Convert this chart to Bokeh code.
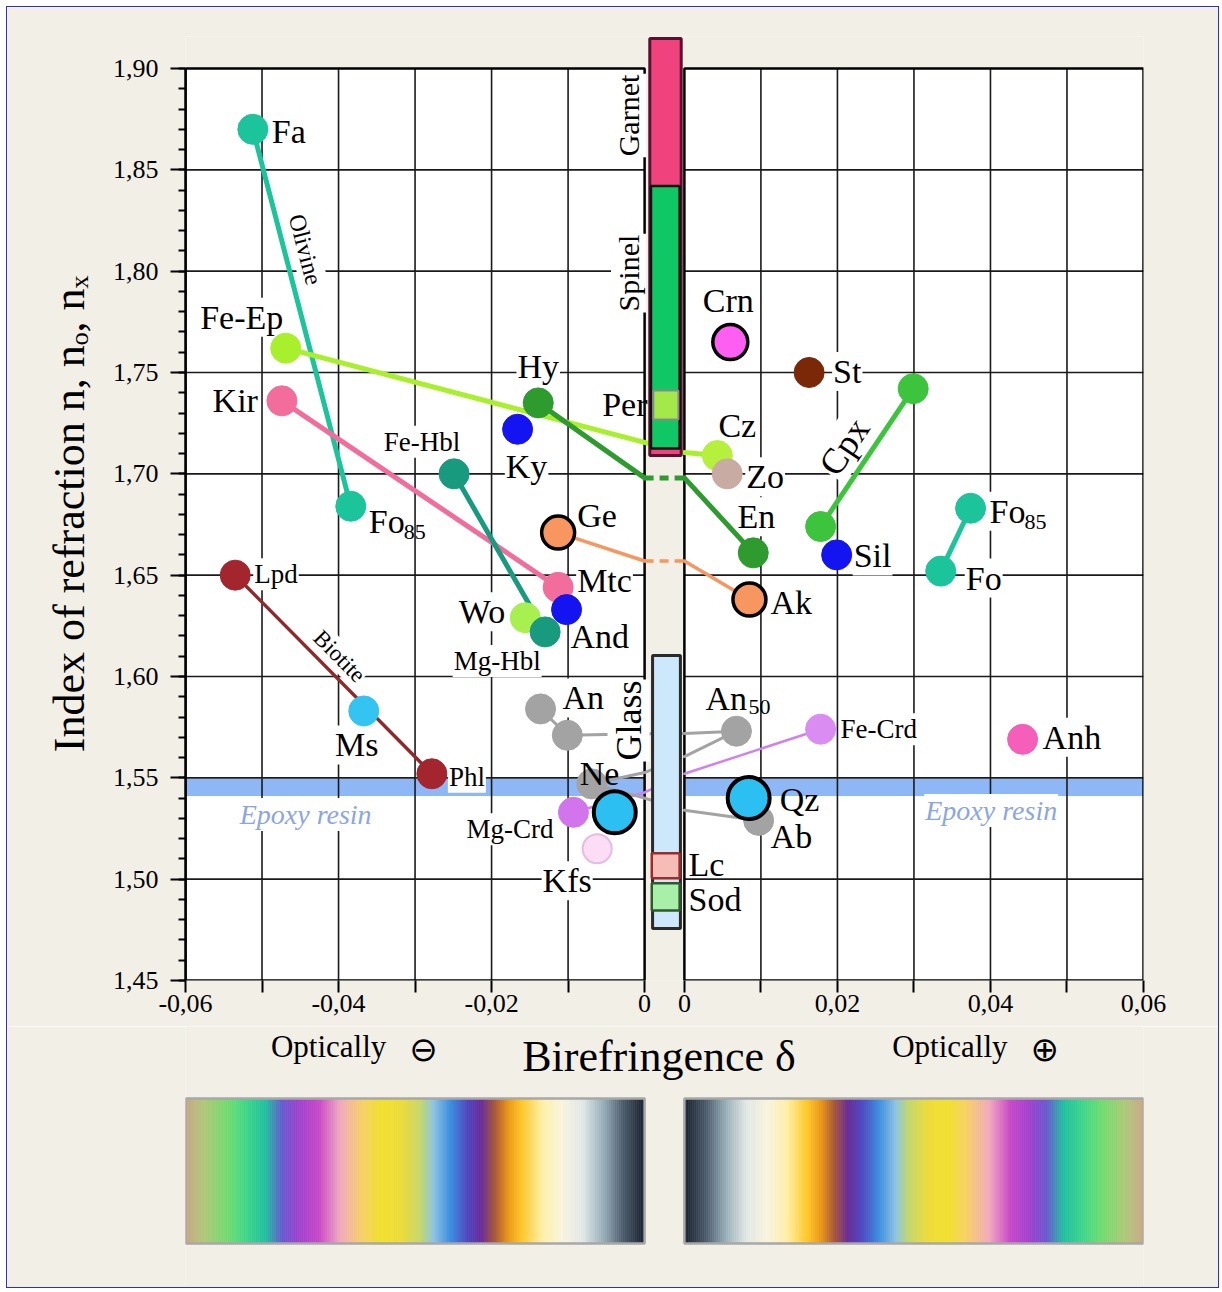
import math
import numpy as np
from bokeh.plotting import figure
from bokeh.models import Range1d, FixedTicker, ColumnDataSource
from bokeh.layouts import column
from bokeh.embed import file_html
from bokeh.resources import INLINE
from bokeh.core.properties import value

# ======================= DATA =======================
mineral_ids = ["Fa", "Fo85L", "Fe-Ep", "Kir", "Fe-Hbl", "Ky", "Hy", "Wo", "Mg-Hbl", "Mtc",
               "And", "Ge", "Lpd", "Ms", "Phl", "An", "Byt", "Olig", "Ab", "An50",
               "Mg-Crd", "Kfs", "Ne", "Qz", "Cz", "Zo", "Crn", "St", "En", "Ak",
               "Sil", "Cpx1", "Cpx2", "Fo85R", "Fo", "Fe-Crd", "Anh"]
mineral_delta = [-0.0512, -0.0384, -0.0469, -0.0474, -0.0249, -0.0166, -0.0139, -0.0156, -0.0130, -0.0113,
                 -0.0102, -0.0113, -0.0535, -0.0367, -0.0278, -0.0136, -0.0101, -0.0069, 0.0097, 0.0068,
                 -0.0093, -0.0062, -0.0039, 0.0084, 0.0043, 0.0056, 0.0060, 0.0163, 0.0090, 0.0085,
                 0.0199, 0.0178, 0.0299, 0.0374, 0.0335, 0.0178, 0.0442]
mineral_n = [1.870, 1.684, 1.762, 1.736, 1.700, 1.722, 1.735, 1.629, 1.622, 1.644,
             1.633, 1.671, 1.650, 1.583, 1.552, 1.584, 1.571, 1.547, 1.529, 1.573,
             1.533, 1.515, 1.533, 1.540, 1.709, 1.700, 1.765, 1.750, 1.661, 1.638,
             1.660, 1.674, 1.742, 1.683, 1.652, 1.574, 1.569]

# mineral series (connected by lines)
series_olivine = ["Fa", "Fo85L"]
series_olivine_pos = ["Fo85R", "Fo"]
series_epidote = ["Fe-Ep", "Cz"]
series_opx = ["Hy", "En"]
series_kir = ["Kir", "Mtc"]
series_hbl = ["Fe-Hbl", "Mg-Hbl"]
series_melilite = ["Ge", "Ak"]
series_biotite = ["Lpd", "Phl"]
series_cpx = ["Cpx1", "Cpx2"]
series_crd = ["Fe-Crd", "Mg-Crd"]
series_plag = ["Ab", "Olig", "An50", "Byt", "An"]

# refractive index where a series passes delta = 0 (negative side, positive side)
cross_pairs = [("Fe-Ep", "Cz"), ("Hy", "En"), ("Ge", "Ak"), ("Fe-Crd", "Mg-Crd"),
               ("Ab", "Olig"), ("Olig", "An50"), ("An50", "Byt")]
cross_n_neg = [1.7155, 1.698, 1.657, 1.5428, 1.540, 1.5526, 1.5717]
cross_n_pos = [1.7105, 1.698, 1.657, 1.5520, 1.534, 1.5605, 1.5719]

# isotropic minerals (n ranges at delta = 0)
iso_names = ["Garnet", "Spinel", "Per", "Glass", "Lc", "Sod"]
iso_n_low = [1.709, 1.7125, 1.7268, 1.4757, 1.5005, 1.4845]
iso_n_high = [1.9148, 1.842, 1.7411, 1.6104, 1.5128, 1.4980]

epoxy_n = [1.541, 1.5495]

y_tick_values = [1.45, 1.50, 1.55, 1.60, 1.65, 1.70, 1.75, 1.80, 1.85, 1.90]
y_tick_labels = ["1,45", "1,50", "1,55", "1,60", "1,65", "1,70", "1,75", "1,80", "1,85", "1,90"]
x_tick_delta = [-0.06, -0.04, -0.02, 0.0, 0.0, 0.02, 0.04, 0.06]
x_tick_side = [-1, -1, -1, -1, 1, 1, 1, 1]
x_tick_labels = ["-0,06", "-0,04", "-0,02", "0", "0", "0,02", "0,04", "0,06"]
x_minor_delta = [-0.05, -0.03, -0.01, 0.01, 0.03, 0.05]

# interference colours vs |delta|
strip_stop_delta = [0.0, 0.0028, 0.0055, 0.0081, 0.0108, 0.0134, 0.0161, 0.0178, 0.0196, 0.0214,
                    0.0232, 0.0254, 0.0276, 0.0293, 0.0320, 0.0346, 0.0373, 0.0399, 0.0426, 0.0452,
                    0.0474, 0.0496, 0.0523, 0.0545, 0.0576, 0.0600]
strip_stop_color = ["#18202E", "#4A5A6A", "#9AB0BC", "#E2E8E6", "#F8F4E0", "#FFF0A8", "#FFC828", "#EC9A18",
                    "#A85838", "#6A2C98", "#5048C0", "#3E8EE0", "#8CC4E4", "#C4D870", "#EEDC38", "#F2E030",
                    "#F8CC70", "#F0A8C0", "#C848C8", "#A040D0", "#6858D0", "#20C0A0", "#40D888", "#70DC70",
                    "#B0C878", "#C8A888"]

# ======================= STYLE / LAYOUT =======================
FONT = "Liberation Serif"
BEIGE = "#F2EFE7"
GAP = 0.0052
FRAME_W, FRAME_H = 958, 944
X0, X1 = -0.06, 0.06 + GAP
SX = FRAME_W / (X1 - X0)
SY = 912 / 0.45
Y0 = 1.45
Y1 = Y0 + FRAME_H / SY
YTOP = 1.90
CANVAS_W = 1211

def U(d, side=None):
    if side is None:
        side = -1 if d < 0 else 1
    return d if side < 0 else d + GAP

D = dict(zip(mineral_ids, mineral_delta))
N = dict(zip(mineral_ids, mineral_n))

OLV = "#1BC49A"
mstyle = {
    "Fa": (OLV, 30, None, 0), "Fo85L": (OLV, 30, None, 0), "Fo85R": (OLV, 30, None, 0), "Fo": (OLV, 30, None, 0),
    "Fe-Ep": ("#A8F02C", 30, None, 0), "Cz": ("#B4F03C", 30, None, 0),
    "Kir": ("#F26D9C", 30, None, 0), "Mtc": ("#F26D9C", 30, None, 0),
    "Fe-Hbl": ("#179A7E", 30, None, 0), "Mg-Hbl": ("#179A7E", 30, None, 0),
    "Ky": ("#1414F0", 30, None, 0), "And": ("#1414F0", 30, None, 0), "Sil": ("#1414F0", 30, None, 0),
    "Hy": ("#2E9B2E", 30, None, 0), "En": ("#2E9B2E", 30, None, 0),
    "Wo": ("#A8F050", 30, None, 0),
    "Ge": ("#F7965E", 33, "black", 3.5), "Ak": ("#F7965E", 33, "black", 3.5),
    "Lpd": ("#A3262E", 30, None, 0), "Phl": ("#A3262E", 30, None, 0),
    "Ms": ("#33C4F2", 30, None, 0),
    "An": ("#A3A3A3", 30, None, 0), "Byt": ("#A3A3A3", 30, None, 0), "Olig": ("#A3A3A3", 30, None, 0),
    "Ab": ("#A3A3A3", 30, None, 0), "An50": ("#A3A3A3", 30, None, 0),
    "Mg-Crd": ("#D274EC", 30, None, 0), "Fe-Crd": ("#DA8CF2", 30, None, 0),
    "Kfs": ("#FBDDF5", 29, "#E6BCE0", 2),
    "Ne": ("#2CC0F2", 42, "black", 4), "Qz": ("#2CC0F2", 42, "black", 4),
    "Zo": ("#C8ABA2", 30, None, 0), "Crn": ("#FF5EF2", 35, "black", 3.5),
    "St": ("#7A2808", 30, None, 0), "Cpx1": ("#3CC43C", 30, None, 0), "Cpx2": ("#3CC43C", 30, None, 0),
    "Anh": ("#F55EB9", 30, None, 0),
}

series_style = [
    (series_olivine, OLV, 5), (series_olivine_pos, OLV, 5), (series_epidote, "#A8F02C", 5),
    (series_opx, "#2E9B2E", 5), (series_kir, "#F26D9C", 5), (series_hbl, "#179A7E", 5),
    (series_melilite, "#F7965E", 3.5), (series_biotite, "#8E2A2C", 3.5), (series_cpx, "#3CC43C", 5),
    (series_crd, "#D080F0", 2.5), (series_plag, "#A3A3A3", 3),
]

BIG, SMALL, SUB = 34, 27, 22
# (mineral, text, align, dx, dy, size, white background)
label_style = [
    ("Fa", "Fa", "left", 18, 2, BIG, True),
    ("Fo85L", "Fo", "left", 17, 15, BIG, True), ("Fo85L", "85", "left", 53, 26, SUB, False),
    ("Fe-Ep", "Fe-Ep", "center", -44, -31, BIG, True),
    ("Kir", "Kir", "right", -23, 0, BIG, True),
    ("Fe-Hbl", "Fe-Hbl", "center", -32, -32, SMALL, True),
    ("Mg-Hbl", "Mg-Hbl", "center", -48, 29, SMALL, True),
    ("Hy", "Hy", "center", 0, -36, BIG, True),
    ("Ky", "Ky", "center", 9, 37, BIG, True),
    ("Ge", "Ge", "left", 18, -17, BIG, True),
    ("Mtc", "Mtc", "left", 18, -7, BIG, True),
    ("Wo", "Wo", "right", -19, -6, BIG, True),
    ("And", "And", "left", 3, 27, BIG, True),
    ("Crn", "Crn", "center", -2, -42, BIG, True),
    ("St", "St", "left", 23, -1, BIG, True),
    ("Cz", "Cz", "center", 20, -30, BIG, True),
    ("Zo", "Zo", "left", 18, 3, BIG, True),
    ("En", "En", "center", 3, -36, BIG, True),
    ("Ak", "Ak", "left", 20, 3, BIG, True),
    ("Sil", "Sil", "left", 16, 1, BIG, True),
    ("Fo85R", "Fo", "left", 18, 3, BIG, True), ("Fo85R", "85", "left", 54, 14, SUB, False),
    ("Fo", "Fo", "left", 24, 7, BIG, True),
    ("Lpd", "Lpd", "left", 18, -1, SMALL, True),
    ("Ms", "Ms", "center", -7, 34, BIG, True),
    ("Phl", "Phl", "left", 16, 3, SMALL, True),
    ("An", "An", "left", 21, -11, BIG, True),
    ("An50", "An", "left", -32, -33, BIG, True), ("An50", "50", "left", 12, -24, SUB, False),
    ("Ne", "Ne", "left", -35, -39, BIG, False),
    ("Mg-Crd", "Mg-Crd", "right", -19, 17, SMALL, True),
    ("Kfs", "Kfs", "center", -30, 32, BIG, True),
    ("Fe-Crd", "Fe-Crd", "left", 19, 0, SMALL, True),
    ("Anh", "Anh", "left", 19, -2, BIG, True),
    ("Qz", "Qz", "left", 31, 1, BIG, False),
    ("Ab", "Ab", "left", 11, 16, BIG, True),
]
# rotated series names: (series, text, t along line, dx, dy, size)
series_label_style = [
    (series_olivine, "Olivine", 0.332, 20, -5, 24),
    (series_biotite, "Biotite", 0.469, 12, -12, 23),
    (series_cpx, "Cpx", 0.58, -30, 0, 36),
]
# isotropic bars: fill, line, line width, horizontal fractions of the gap
iso_style = {
    "Garnet": ("#F0427D", "#5C1030", 3, 0.13, 0.92),
    "Spinel": ("#0FC865", "#111111", 2.5, 0.16, 0.88),
    "Per": ("#A4E84A", "#8A8A8A", 2, 0.22, 0.85),
    "Glass": ("#CDE8FA", "#2A2A2A", 3, 0.2, 0.9),
    "Lc": ("#F5BDB6", "#9E2A2A", 2.5, 0.18, 0.88),
    "Sod": ("#A8F0A8", "#2E5A2E", 2.5, 0.18, 0.88),
}
# (iso, text, align, dx, dy, size, bg, angle, anchor: 'top' or 'mid')
iso_label_style = [
    ("Garnet", "Garnet", "center", -36, 77, 30, True, math.pi / 2, "top"),
    ("Spinel", "Spinel", "center", -36, 87, 30, True, math.pi / 2, "top"),
    ("Glass", "Glass", "center", -36, 65, 36, True, math.pi / 2, "top"),
    ("Per", "Per", "right", -17, -1, BIG, False, 0, "mid"),
    ("Lc", "Lc", "left", 24, -1, BIG, False, 0, "mid"),
    ("Sod", "Sod", "left", 24, 3, BIG, False, 0, "mid"),
]

# ======================= MAIN FIGURE =======================
H1 = 1019
p = figure(width=CANVAS_W, height=H1, x_range=Range1d(X0, X1), y_range=Range1d(Y0, Y1),
           output_backend="svg", toolbar_location=None,
           min_border_left=178, min_border_right=CANVAS_W - 178 - FRAME_W,
           min_border_top=29, min_border_bottom=H1 - 29 - FRAME_H,
           background_fill_color=BEIGE, border_fill_color=BEIGE)
p.outline_line_color = None
p.grid.visible = False

def add_text(fig, x, y, text, align, dx, dy, fs, bg, angle=0.0, color="black", style="normal", font=FONT):
    kw = {}
    if bg:
        kw = dict(background_fill_color="white", padding=1)
    fig.text(x=[x], y=[y], text=[text], text_align=align, text_baseline="middle",
             x_offset=dx, y_offset=dy, angle=angle, text_font=value(font),
             text_font_size=f"{fs}px", text_color=color, text_font_style=style, **kw)

LEFT_L, LEFT_R = U(x_tick_delta[0], -1), U(0.0, -1)
RIGHT_L, RIGHT_R = U(0.0, 1), U(x_tick_delta[-1], 1)
halves_l = [LEFT_L, RIGHT_L]
halves_r = [LEFT_R, RIGHT_R]
p.quad(left=halves_l, right=halves_r, bottom=[Y0] * 2, top=[YTOP] * 2, fill_color="white", line_color=None)
p.quad(left=halves_l, right=halves_r, bottom=[epoxy_n[0]] * 2, top=[epoxy_n[1]] * 2,
       fill_color="#8DB8F5", line_color=None)

# grid
gx0, gy0, gx1, gy1 = [], [], [], []
for yv in y_tick_values[1:-1]:
    for a, b in zip(halves_l, halves_r):
        gx0.append(a); gx1.append(b); gy0.append(yv); gy1.append(yv)
for d in x_minor_delta + [-0.04, -0.02, 0.02, 0.04]:
    gx0.append(U(d)); gx1.append(U(d)); gy0.append(Y0); gy1.append(YTOP)
p.segment(x0=gx0, y0=gy0, x1=gx1, y1=gy1, line_color="#1A1A1A", line_width=1.6)
p.quad(left=halves_l, right=halves_r, bottom=[Y0] * 2, top=[YTOP] * 2, fill_color=None,
       line_color="black", line_width=2.5)

# epoxy resin labels
for d, dy in [(-0.0443, 27), (0.0401, 23)]:
    add_text(p, U(d), 0.5 * (epoxy_n[0] + epoxy_n[1]), "Epoxy resin", "center", 0, dy, 28, True,
             color="#8CA6DE", style="italic")

# mineral labels with white background (under lines and markers)
for m, text, align, dx, dy, fs, bg in label_style:
    if bg:
        add_text(p, U(D[m]), N[m], text, align, dx, dy, fs, True)

# series lines
cross = {pair: (a, b) for pair, a, b in zip(cross_pairs, cross_n_neg, cross_n_pos)}
for members, color, lw in series_style:
    sx, sy, dx_, dy_ = [], [], [], []
    for a, b in zip(members[:-1], members[1:]):
        da, db = D[a], D[b]
        if (da < 0) == (db < 0):
            sx.append([U(da), U(db)]); sy.append([N[a], N[b]])
        else:
            nneg, npos = cross[(a, b)]
            neg, pos = (a, b) if da < 0 else (b, a)
            sx.append([U(D[neg]), U(0.0, -1)]); sy.append([N[neg], nneg])
            sx.append([U(0.0, 1), U(D[pos])]); sy.append([npos, N[pos]])
            dx_.append([U(0.0, -1), U(0.0, 1)]); dy_.append([nneg, npos])
    p.multi_line(xs=sx, ys=sy, line_color=color, line_width=lw, line_cap="round")
    if dx_:
        p.multi_line(xs=dx_, ys=dy_, line_color=color, line_width=lw, line_dash="9 6")

# rotated series labels
for members, text, t, dx, dy, fs in series_label_style:
    a, b = members
    ua, ub = U(D[a]), U(D[b])
    x = ua + t * (ub - ua)
    y = N[a] + t * (N[b] - N[a])
    ang = math.atan2((N[b] - N[a]) * SY, (ub - ua) * SX)
    add_text(p, x, y, text, "center", dx, dy, fs, True, angle=ang)

# isotropic bars
for name, lo, hi in zip(iso_names, iso_n_low, iso_n_high):
    fc, lc, lw, f0, f1 = iso_style[name]
    p.quad(left=[U(0.0, -1) + GAP * f0], right=[U(0.0, -1) + GAP * f1], bottom=[lo], top=[hi],
           fill_color=fc, line_color=lc, line_width=lw)

# markers
msrc = ColumnDataSource(dict(
    x=[U(D[m]) for m in mineral_ids], y=[N[m] for m in mineral_ids],
    size=[mstyle[m][1] for m in mineral_ids], fill=[mstyle[m][0] for m in mineral_ids],
    line=[mstyle[m][2] or mstyle[m][0] for m in mineral_ids],
    lw=[mstyle[m][3] if mstyle[m][2] else 1 for m in mineral_ids]))
p.scatter("x", "y", size="size", fill_color="fill", line_color="line", line_width="lw",
          marker="circle", source=msrc)

# labels without background (on top)
for m, text, align, dx, dy, fs, bg in label_style:
    if not bg:
        add_text(p, U(D[m]), N[m], text, align, dx, dy, fs, False)

iso_idx = {n: i for i, n in enumerate(iso_names)}
for name, text, align, dx, dy, fs, bg, ang, anchor in iso_label_style:
    i = iso_idx[name]
    y = iso_n_high[i] if anchor == "top" else 0.5 * (iso_n_low[i] + iso_n_high[i])
    add_text(p, U(0.0, -1) + GAP / 2, y, text, align, dx, dy, fs, bg, angle=ang)

# axes
p.yaxis.ticker = FixedTicker(ticks=y_tick_values,
                             minor_ticks=[round(1.45 + 0.01 * i, 2) for i in range(46)])
p.yaxis.major_label_overrides = dict(zip(y_tick_values, y_tick_labels))
p.yaxis.bounds = (Y0, YTOP)
x_tick_u = [round(U(d, s), 4) for d, s in zip(x_tick_delta, x_tick_side)]
p.xaxis.ticker = FixedTicker(ticks=x_tick_u, minor_ticks=[round(U(d), 4) for d in x_minor_delta])
p.xaxis.major_label_overrides = dict(zip(x_tick_u, x_tick_labels))
for ax in (p.xaxis[0], p.yaxis[0]):
    ax.major_label_text_font = FONT
    ax.major_label_text_font_size = "26px"
    ax.major_label_text_color = "black"
    ax.major_tick_line_color = "black"
    ax.minor_tick_line_color = "black"
    ax.major_tick_line_width = 2
    ax.minor_tick_line_width = 2
    ax.major_tick_in = 0
    ax.minor_tick_in = 0
    ax.axis_label_text_font = FONT
    ax.axis_label_text_font_style = "normal"
    ax.axis_label_text_color = "black"
p.xaxis.axis_line_color = None
p.xaxis.major_tick_out = 12
p.xaxis.minor_tick_out = 12
p.xaxis.major_label_standoff = 2
p.yaxis.axis_line_width = 2.5
p.yaxis.major_tick_out = 15
p.yaxis.minor_tick_out = 7
p.yaxis.major_label_standoff = 12
p.yaxis.axis_label = "Index of refraction  n, nₒ, nₓ"
p.yaxis.axis_label_text_font_size = "44px"
p.yaxis.axis_label_standoff = 16

# ======================= LOWER PANEL: axis title + colour strips =======================
H2 = 1287 - 7 - H1
p2 = figure(width=CANVAS_W, height=H2, x_range=Range1d(X0, X1), y_range=Range1d(0, H2),
            output_backend="svg", toolbar_location=None, x_axis_location=None, y_axis_location=None,
            min_border_left=178, min_border_right=CANVAS_W - 178 - FRAME_W,
            min_border_top=0, min_border_bottom=0,
            background_fill_color=BEIGE, border_fill_color=BEIGE)
p2.outline_line_color = None
p2.grid.visible = False

add_text(p2, U(0.0, -1) + GAP / 2, H2 - 30, "Birefringence  δ", "center", 0, 0, 44, False)
add_text(p2, -0.0413, H2 - 20, "Optically", "center", 0, 0, 31, False)
add_text(p2, -0.0289, H2 - 22, "⊖", "center", 0, 0, 34, False, font="DejaVu Sans")
add_text(p2, -0.0413 + 0.0760 + GAP, H2 - 20, "Optically", "center", 0, 0, 31, False)
add_text(p2, -0.0289 + 0.0760 + GAP, H2 - 22, "⊕", "center", 0, 0, 34, False, font="DejaVu Sans")

def hex2rgb(h):
    return np.array([int(h[i:i + 2], 16) for i in (1, 3, 5)], dtype=float)

stop_rgb = np.array([hex2rgb(c) for c in strip_stop_color])
NSL = 230
edges = np.linspace(0, 0.06, NSL + 1)
mids = 0.5 * (edges[:-1] + edges[1:])
cols = []
for m in mids:
    rgb = [np.interp(m, strip_stop_delta, stop_rgb[:, k]) for k in range(3)]
    cols.append("#%02x%02x%02x" % tuple(int(round(v)) for v in rgb))
SB, ST = 44, 189
p2.quad(left=list(-edges[1:]), right=list(-edges[:-1]), bottom=SB, top=ST,
        fill_color=cols, line_color=cols, line_width=0.6)
p2.quad(left=list(edges[:-1] + GAP), right=list(edges[1:] + GAP), bottom=SB, top=ST,
        fill_color=cols, line_color=cols, line_width=0.6)
p2.quad(left=halves_l, right=halves_r, bottom=[SB] * 2, top=[ST] * 2, fill_color=None,
        line_color="#A8A8A8", line_width=2.5)

layout = column(p, p2, styles={"border": "1px solid #2B2BE6", "margin": "6px 0 0 6px"})
open("out.html", "w").write(file_html(layout, INLINE))
